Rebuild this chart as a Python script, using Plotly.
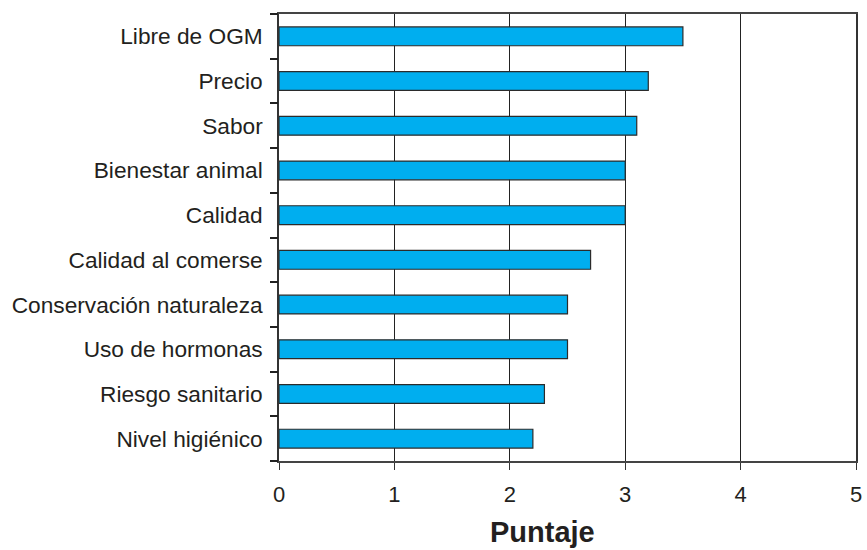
import plotly.graph_objects as go

# Atributos evaluados y su puntaje promedio (de arriba hacia abajo)
atributos = [
    "Libre de OGM",
    "Precio",
    "Sabor",
    "Bienestar animal",
    "Calidad",
    "Calidad al comerse",
    "Conservación naturaleza",
    "Uso de hormonas",
    "Riesgo sanitario",
    "Nivel higiénico",
]
puntajes = [3.5, 3.2, 3.1, 3.0, 3.0, 2.7, 2.5, 2.5, 2.3, 2.2]
x_ticks = [0, 1, 2, 3, 4, 5]

W, H = 867, 550
M_L, M_R, M_T, M_B = 279, 11, 14, 89
TXT = "#231F20"
FONT = "Liberation Sans, Arial, Helvetica, sans-serif"

posiciones = list(range(len(atributos)))
limites = [p - 0.5 for p in posiciones] + [posiciones[-1] + 0.5]
rango_y = [limites[-1], limites[0]]

fig = go.Figure()
fig.add_trace(
    go.Bar(
        x=puntajes,
        y=posiciones,
        orientation="h",
        width=0.42,
        marker=dict(color="#00AEEF", line=dict(color="#2b2b2b", width=1.2)),
        customdata=atributos,
        hovertemplate="%{customdata}: %{x}<extra></extra>",
    )
)
# Traza invisible que ancla el eje auxiliar con las marcas entre categorías
fig.add_trace(
    go.Scatter(
        x=[0, 0], y=[limites[0], limites[-1]], yaxis="y2", mode="markers",
        marker=dict(opacity=0, size=1),
        showlegend=False, hoverinfo="skip",
    )
)

fig.update_layout(
    template="none",
    width=W,
    height=H,
    margin=dict(l=M_L, r=M_R, t=M_T, b=M_B, pad=0),
    paper_bgcolor="white",
    plot_bgcolor="white",
    showlegend=False,
    font=dict(family=FONT, color=TXT, size=21),
    yaxis2=dict(
        overlaying="y",
        anchor="x",
        side="left",
        range=rango_y,
        tickmode="array",
        tickvals=limites,
        ticktext=[" " for _ in limites],
        ticks="outside",
        ticklen=8,
        tickwidth=1.6,
        tickcolor="#222222",
        showticklabels=True,
        showgrid=False,
        zeroline=False,
        showline=False,
        automargin=False,
        fixedrange=True,
    ),
)

fig.update_xaxes(
    automargin=False,
    range=[0, 5],
    tickvals=x_ticks,
    ticktext=[str(v) for v in x_ticks],
    ticks="outside",
    ticklen=7,
    tickwidth=1.2,
    tickcolor="#333333",
    ticklabelstandoff=6,
    showgrid=True,
    gridcolor="#222222",
    gridwidth=1.2,
    showline=True,
    linecolor="#444444",
    linewidth=1.5,
    mirror=True,
    zeroline=False,
    tickfont=dict(size=22, color=TXT),
    fixedrange=True,
)

fig.layout.yaxis.update(
    automargin=False,
    range=rango_y,
    tickvals=posiciones,
    ticktext=atributos,
    ticks="",
    ticklabelstandoff=10,
    showgrid=False,
    zeroline=False,
    showline=True,
    linecolor="#333333",
    linewidth=1.5,
    mirror=True,
    tickfont=dict(size=22.7, color=TXT),
    fixedrange=True,
)

# Título del eje horizontal
fig.add_annotation(
    text="<b>Puntaje</b>",
    xref="paper",
    yref="paper",
    x=(542 - M_L) / (W - M_L - M_R),
    y=-(532 - (H - M_B)) / (H - M_T - M_B),
    xanchor="center",
    yanchor="middle",
    showarrow=False,
    font=dict(size=29, color=TXT, family=FONT),
)

fig.write_html("out.html")
